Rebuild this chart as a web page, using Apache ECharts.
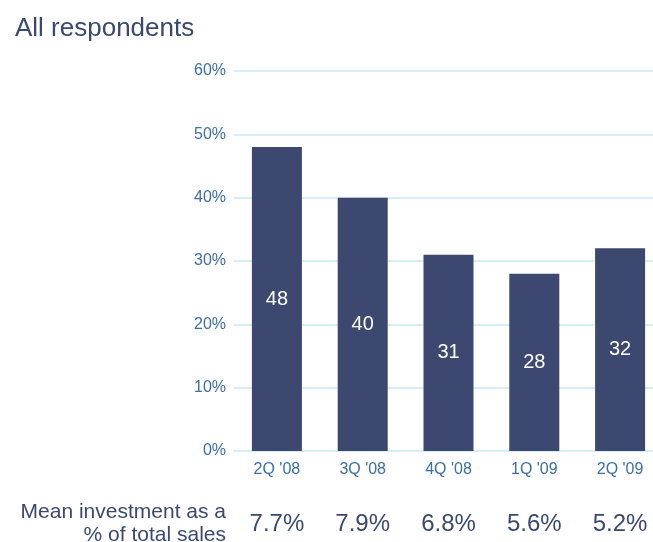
<!DOCTYPE html>
<html>
<head>
<meta charset="utf-8">
<script src="https://cdn.jsdelivr.net/npm/echarts@6/dist/echarts.min.js"></script>
<style>
  html, body { margin: 0; padding: 0; background: #ffffff; }
  #chart { width: 653px; height: 542px; }
</style>
</head>
<body>
<div id="chart"></div>
<script>
// Quarters surveyed
const quarters = ["2Q '08", "3Q '08", "4Q '08", "1Q '09", "2Q '09"];
// Share of respondents (%)
const shares = [48, 40, 31, 28, 32];
// Mean investment as a % of total sales
const meanInvestment = ["7.7%", "7.9%", "6.8%", "5.6%", "5.2%"];
// Value axis ticks
const yTicks = [0, 10, 20, 30, 40, 50, 60];

const navy = '#3c4870';
const tickBlue = '#3b6fa8';
const gridBlue = '#d6edf6';
const font = 'Arial, "Liberation Sans", Helvetica, sans-serif';

const chart = echarts.init(document.getElementById('chart'), null, { renderer: 'canvas' });

chart.setOption({
  animation: false,
  backgroundColor: '#ffffff',
  title: {
    text: 'All respondents',
    left: 10,
    top: 11,
    textStyle: { color: navy, fontFamily: font, fontSize: 26, fontWeight: 'normal' }
  },
  grid: { left: 234, top: 71, width: 429, height: 380, outerBoundsMode: 'none', containLabel: false },
  xAxis: [
    {
      type: 'category',
      data: quarters,
      axisLine: { show: true, lineStyle: { color: gridBlue, width: 2 } },
      axisTick: { show: false },
      axisLabel: { color: tickBlue, fontFamily: font, fontSize: 16, margin: 11 }
    },
    {
      type: 'category',
      data: meanInvestment,
      position: 'bottom',
      offset: 60,
      axisLine: { show: false },
      axisTick: { show: false },
      axisLabel: { color: navy, fontFamily: font, fontSize: 24, margin: 0, verticalAlign: 'top', lineHeight: 26 }
    }
  ],
  yAxis: {
    type: 'value',
    min: yTicks[0],
    max: yTicks[yTicks.length - 1],
    interval: 10,
    axisLine: { show: false },
    axisTick: { show: false },
    splitLine: { lineStyle: { color: gridBlue, width: 2 } },
    axisLabel: {
      color: tickBlue, fontFamily: font, fontSize: 16, margin: 8,
      formatter: v => v + '%'
    }
  },
  series: [{
    type: 'bar',
    data: shares,
    xAxisIndex: 0,
    barWidth: 50,
    itemStyle: { color: navy },
    label: {
      show: true,
      position: 'inside',
      color: '#ffffff',
      fontFamily: font,
      fontSize: 20
    }
  }],
  graphic: [{
    type: 'text',
    x: 226,
    y: 501,
    style: {
      text: 'Mean investment as a\n% of total sales',
      fill: navy,
      font: '21px ' + font,
      align: 'right',
      verticalAlign: 'top',
      lineHeight: 23
    }
  }]
});
</script>
</body>
</html>
